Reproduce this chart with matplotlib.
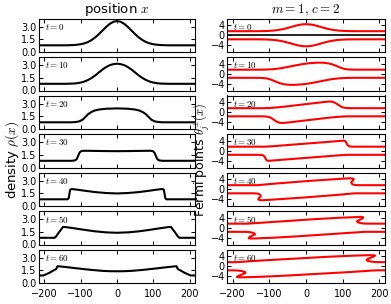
import matplotlib.pyplot as plt

plt.rcParams['mathtext.fontset'] = 'cm'
plt.rcParams['font.family'] = ['DejaVu Sans']

times = [0, 10, 20, 30, 40, 50, 60]

# density rho(x) for each time
rho_x = [
    [-215, -140, -120, -110, -100, -90, -80, -70, -60, -50, -40, -30, -20, -10, 0,
     10, 20, 30, 40, 50, 60, 70, 80, 90, 100, 110, 120, 140, 215],
    [-215, -140, -120, -110, -100, -90, -80, -70, -60, -50, -40, -30, -20, -10, 0,
     10, 20, 30, 40, 50, 60, 70, 80, 90, 100, 110, 120, 140, 215],
    [-215, -125, -115, -105, -95, -88, -80, -72, -62, -50, -30, 0,
     30, 50, 62, 72, 80, 88, 95, 105, 115, 125, 215],
    [-215, -125, -116, -111, -107, -103, -98, -90, -60, -30, 0,
     30, 60, 90, 98, 103, 107, 111, 116, 125, 215],
    [-215, -136, -133, -131, -129, -125, -110, -90, -60, -30, 0,
     30, 60, 90, 110, 125, 129, 131, 133, 136, 215],
    [-215, -172, -168, -160, -153, -149, -140, -120, -90, -60, -30, 0,
     30, 60, 90, 120, 140, 149, 153, 160, 168, 172, 215],
    [-215, -203, -195, -185, -175, -168, -164, -155, -130, -100, -70, -40, -20, 0,
     20, 40, 70, 100, 130, 155, 164, 168, 175, 185, 195, 203, 215],
]
rho_y = [
    [0.8, 0.8, 0.83, 0.87, 0.93, 1.03, 1.19, 1.43, 1.74, 2.13, 2.56, 2.99, 3.36, 3.61, 3.7,
     3.61, 3.36, 2.99, 2.56, 2.13, 1.74, 1.43, 1.19, 1.03, 0.93, 0.87, 0.83, 0.8, 0.8],
    [0.8, 0.8, 0.83, 0.87, 0.95, 1.07, 1.25, 1.5, 1.8, 2.15, 2.5, 2.8, 3.02, 3.15, 3.2,
     3.15, 3.02, 2.8, 2.5, 2.15, 1.8, 1.5, 1.25, 1.07, 0.95, 0.87, 0.83, 0.8, 0.8],
    [0.8, 0.8, 0.83, 0.9, 1.1, 1.4, 1.75, 2.0, 2.2, 2.32, 2.42, 2.46,
     2.42, 2.32, 2.2, 2.0, 1.75, 1.4, 1.1, 0.9, 0.83, 0.8, 0.8],
    [0.8, 0.8, 0.85, 1.0, 1.4, 1.8, 1.97, 2.0, 1.98, 1.96, 1.95,
     1.96, 1.98, 2.0, 1.97, 1.8, 1.4, 1.0, 0.85, 0.8, 0.8],
    [0.8, 0.8, 0.95, 1.5, 1.95, 2.03, 1.95, 1.83, 1.66, 1.55, 1.5,
     1.55, 1.66, 1.83, 1.95, 2.03, 1.95, 1.5, 0.95, 0.8, 0.8],
    [0.8, 0.8, 0.95, 1.45, 1.85, 2.1, 2.07, 1.95, 1.75, 1.57, 1.45, 1.4,
     1.45, 1.57, 1.75, 1.95, 2.07, 2.1, 1.85, 1.45, 0.95, 0.8, 0.8],
    [0.9, 0.9, 1.05, 1.25, 1.5, 1.65, 2.0, 1.97, 1.85, 1.7, 1.56, 1.45, 1.41, 1.4,
     1.41, 1.45, 1.56, 1.7, 1.85, 1.97, 2.0, 1.65, 1.5, 1.25, 1.05, 0.9, 0.9],
]

# Fermi points: upper branch theta+
up_x = [
    [-215, -140, -120, -110, -100, -90, -80, -70, -60, -50, -40, -30, -20, -10, 0,
     10, 20, 30, 40, 50, 60, 70, 80, 90, 100, 110, 120, 140, 215],
    [-215, -130, -110, -90, -70, -50, -30, -10, 10, 30, 45, 60, 72, 84, 95, 105, 115, 130, 215],
    [-215, -115, -100, -80, -60, -40, -20, 0, 20, 40, 55, 65, 72, 80, 88, 95, 102, 110, 120, 215],
    [-215, -115, -105, -90, -60, -30, 0, 30, 60, 90, 102, 107, 110, 113, 117, 122, 130, 215],
    [-215, -135, -128, -110, -80, -50, -20, 10, 40, 70, 100, 118, 126, 130, 129, 125, 123,
     125, 129, 135, 145, 215],
    [-215, -160, -150, -120, -90, -60, -30, 0, 30, 60, 90, 120, 140, 150, 156, 154, 146,
     139, 140, 147, 155, 163, 215],
    [-215, -192, -180, -150, -120, -90, -60, -30, 0, 30, 60, 90, 120, 150, 175, 185, 188,
     182, 172, 165, 166, 175, 185, 195, 215],
]
up_y = [
    [1.65, 1.65, 1.68, 1.71, 1.78, 1.88, 2.04, 2.27, 2.58, 2.95, 3.38, 3.8, 4.17, 4.41, 4.5,
     4.41, 4.17, 3.8, 3.38, 2.95, 2.58, 2.27, 2.04, 1.88, 1.78, 1.71, 1.68, 1.65, 1.65],
    [1.65, 1.65, 1.7, 1.85, 2.2, 2.75, 3.35, 3.9, 4.3, 4.5, 4.5, 4.25, 3.8, 3.1, 2.4, 1.95, 1.75, 1.66, 1.65],
    [1.65, 1.65, 1.72, 1.95, 2.25, 2.6, 2.95, 3.3, 3.65, 4.0, 4.25, 4.35, 4.25, 3.8, 3.0, 2.3, 1.9, 1.72, 1.66, 1.65],
    [1.65, 1.65, 1.7, 1.85, 2.2, 2.55, 2.9, 3.25, 3.6, 3.95, 4.1, 3.9, 3.2, 2.3, 1.85, 1.7, 1.65, 1.65],
    [1.65, 1.65, 1.7, 1.95, 2.35, 2.7, 3.05, 3.4, 3.7, 4.0, 4.3, 4.45, 4.4, 4.15, 3.7, 3.2, 2.7,
     2.2, 1.85, 1.7, 1.65, 1.65],
    [1.65, 1.65, 1.75, 2.05, 2.35, 2.65, 2.95, 3.25, 3.55, 3.8, 4.05, 4.22, 4.35, 4.4, 4.25, 3.8, 3.2,
     2.7, 2.3, 1.95, 1.75, 1.67, 1.65],
    [1.65, 1.65, 1.75, 2.05, 2.35, 2.6, 2.85, 3.1, 3.35, 3.6, 3.85, 4.05, 4.25, 4.4, 4.5, 4.45, 4.3,
     3.8, 3.2, 2.7, 2.3, 1.95, 1.75, 1.67, 1.65],
]

# Fermi points: lower branch theta-
low_x = [
    [-215, -140, -120, -110, -100, -90, -80, -70, -60, -50, -40, -30, -20, -10, 0,
     10, 20, 30, 40, 50, 60, 70, 80, 90, 100, 110, 120, 140, 215],
    [-215, -130, -115, -105, -95, -84, -72, -60, -45, -30, -10, 10, 30, 50, 70, 90, 110, 130, 215],
    [-215, -120, -110, -102, -95, -88, -80, -72, -65, -55, -40, -20, 0, 20, 40, 60, 80, 100, 115, 215],
    [-215, -130, -122, -117, -113, -110, -107, -102, -90, -60, -30, 0, 30, 60, 90, 105, 115, 215],
    [215, 135, 128, 110, 80, 50, 20, -10, -40, -70, -100, -118, -126, -130, -129, -125, -123,
     -125, -129, -135, -145, -215],
    [215, 160, 150, 120, 90, 60, 30, 0, -30, -60, -90, -120, -140, -150, -156, -154, -146,
     -139, -140, -147, -155, -163, -215],
    [215, 192, 180, 150, 120, 90, 60, 30, 0, -30, -60, -90, -120, -150, -175, -185, -188,
     -182, -172, -165, -166, -175, -185, -195, -215],
]
low_y = [
    [-1.65, -1.65, -1.68, -1.71, -1.78, -1.88, -2.04, -2.27, -2.58, -2.95, -3.38, -3.8, -4.17, -4.41, -4.5,
     -4.41, -4.17, -3.8, -3.38, -2.95, -2.58, -2.27, -2.04, -1.88, -1.78, -1.71, -1.68, -1.65, -1.65],
    [-1.65, -1.66, -1.75, -1.95, -2.4, -3.1, -3.8, -4.25, -4.5, -4.5, -4.3, -3.9, -3.35, -2.75, -2.2,
     -1.85, -1.7, -1.65, -1.65],
    [-1.65, -1.66, -1.72, -1.9, -2.3, -3.0, -3.8, -4.25, -4.35, -4.25, -4.0, -3.65, -3.3, -2.95, -2.6,
     -2.25, -1.95, -1.72, -1.65, -1.65],
    [-1.65, -1.65, -1.7, -1.85, -2.3, -3.2, -3.9, -4.1, -3.95, -3.6, -3.25, -2.9, -2.55, -2.2, -1.85,
     -1.7, -1.65, -1.65],
    [-1.65, -1.65, -1.7, -1.95, -2.35, -2.7, -3.05, -3.4, -3.7, -4.0, -4.3, -4.45, -4.4, -4.15, -3.7,
     -3.2, -2.7, -2.2, -1.85, -1.7, -1.65, -1.65],
    [-1.65, -1.65, -1.75, -2.05, -2.35, -2.65, -2.95, -3.25, -3.55, -3.8, -4.05, -4.22, -4.35, -4.4,
     -4.25, -3.8, -3.2, -2.7, -2.3, -1.95, -1.75, -1.67, -1.65],
    [-1.65, -1.65, -1.75, -2.05, -2.35, -2.6, -2.85, -3.1, -3.35, -3.6, -3.85, -4.05, -4.25, -4.4,
     -4.5, -4.45, -4.3, -3.8, -3.2, -2.7, -2.3, -1.95, -1.75, -1.67, -1.65],
]

x_ticks = [-200, -100, 0, 100, 200]
rho_ticks = [0.0, 1.5, 3.0]
theta_ticks = [-4, 0, 4]

W, H = 391.0, 304.0
fig = plt.figure(figsize=(W / 100, H / 100), dpi=100)


def make_axes(left, width, row):
    top = 18.5 + 38.5 * row
    ax = fig.add_axes([left / W, 1 - (top + 33.5) / H, width / W, 33.5 / H])
    ax.tick_params(direction='in', top=True, right=True, labelsize=7,
                   length=3, width=0.7, pad=2)
    ax.tick_params(axis='x', pad=4)
    ax.set_xlim(-215, 215)
    ax.set_xticks(x_ticks)
    if row < len(times) - 1:
        ax.tick_params(labelbottom=False)
    ax.text(0.04, 0.9, '$t=%d$' % times[row], transform=ax.transAxes,
            fontsize=6.5, va='top', ha='left')
    return ax


for i, t in enumerate(times):
    ax = make_axes(39, 156, i)
    ax.plot(rho_x[i], rho_y[i], color='k', lw=1.5)
    ax.set_ylim(0, 4)
    ax.set_yticks(rho_ticks)
    ax.set_yticklabels(['%.1f' % v for v in rho_ticks])

    ax2 = make_axes(227, 158, i)
    ax2.plot(up_x[i], up_y[i], color='r', lw=1.5)
    ax2.plot(low_x[i], low_y[i], color='r', lw=1.5)
    if i == 0:
        ax2.axhline(0, color='k', lw=1.2)
    ax2.set_ylim(-6.8, 6.8)
    ax2.set_yticks(theta_ticks)
    ax2.tick_params(axis='y', pad=1.5)

fig.text(117 / W, 1 - 10 / H, 'position $x$', ha='center', va='center', fontsize=9.5)
fig.text(306 / W, 1 - 10 / H, '$m=1,\\,c=2$', ha='center', va='center', fontsize=9.5)
fig.text(12 / W, 1 - 160 / H, 'density $\\rho(x)$', ha='center', va='center',
         rotation=90, fontsize=9.5)
fig.text(202 / W, 1 - 160 / H, 'Fermi points $\\theta_j^{\\pm}(x)$', ha='center',
         va='center', rotation=90, fontsize=9)

fig.savefig('out.png', dpi=100)
